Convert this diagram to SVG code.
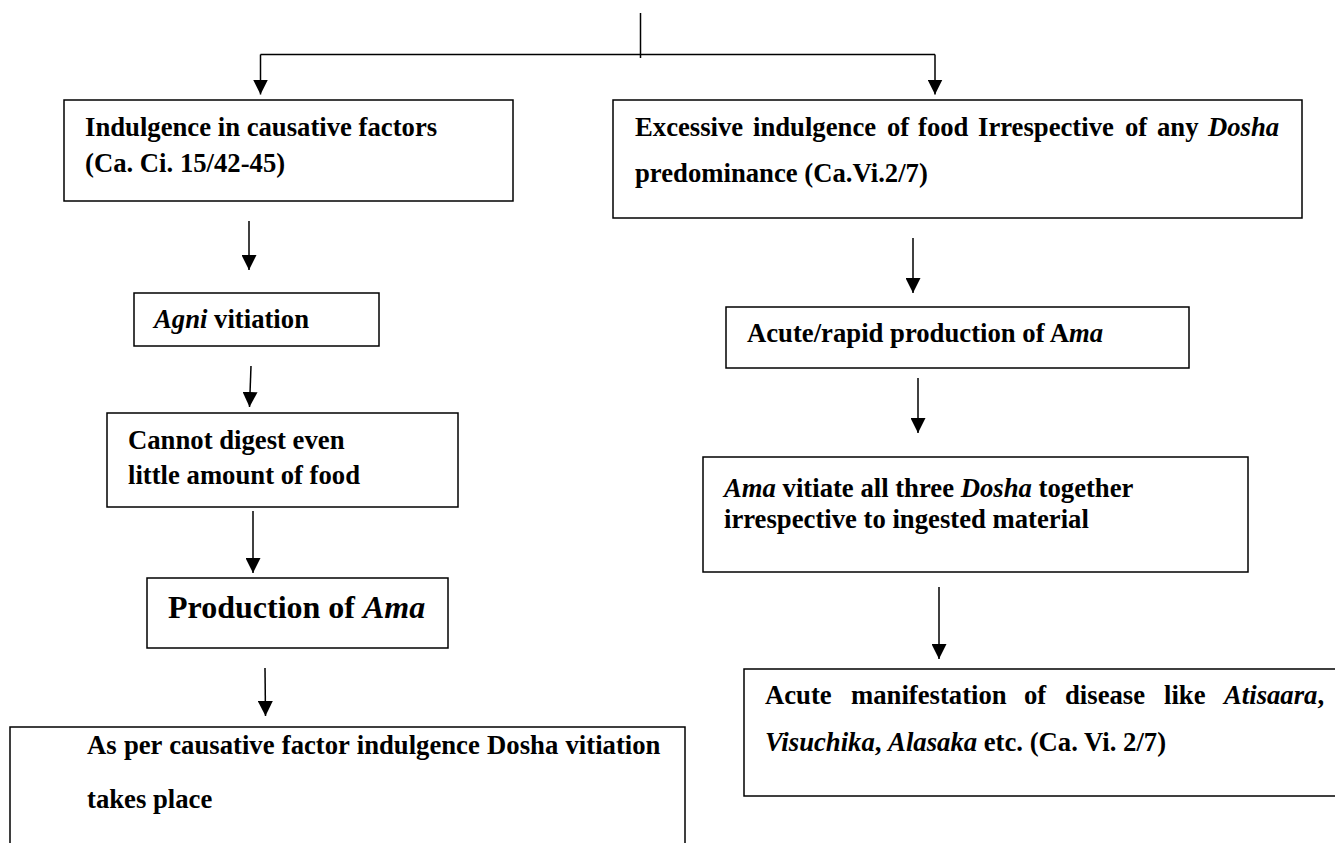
<svg xmlns="http://www.w3.org/2000/svg" width="1335" height="843" viewBox="0 0 1335 843">
<style>
.bg{fill:#fff}
.box{fill:#fff;stroke:#000;stroke-width:1.5}
.ln{fill:none;stroke:#000;stroke-width:1.5}
.t{font-family:"Liberation Serif","Times New Roman",serif;font-weight:bold;font-size:26.7px;fill:#000}
.big{font-size:32px}
.i{font-style:italic}
</style>
<defs>
<marker id="ah" markerWidth="15" markerHeight="15" refX="15" refY="7.5" orient="auto" markerUnits="userSpaceOnUse">
<path d="M0,0 L15,7.5 L0,15 z" fill="#000"/>
</marker>
</defs>
<rect class="bg" x="0" y="0" width="1335" height="843"/>

<g id="connectors">
<line class="ln" x1="640.5" y1="13" x2="640.5" y2="58"/>
<line class="ln" x1="260.5" y1="54.5" x2="935" y2="54.5"/>
<line class="ln" x1="260.5" y1="54.5" x2="260.5" y2="94.5" marker-end="url(#ah)"/>
<line class="ln" x1="935" y1="54.5" x2="935" y2="94.5" marker-end="url(#ah)"/>
<line class="ln" x1="249" y1="221" x2="249" y2="270" marker-end="url(#ah)"/>
<line class="ln" x1="251" y1="366" x2="249.5" y2="407" marker-end="url(#ah)"/>
<line class="ln" x1="253" y1="511" x2="253" y2="573" marker-end="url(#ah)"/>
<line class="ln" x1="265" y1="668" x2="265.5" y2="716" marker-end="url(#ah)"/>
<line class="ln" x1="913" y1="238" x2="913" y2="293" marker-end="url(#ah)"/>
<line class="ln" x1="918" y1="378" x2="918" y2="433" marker-end="url(#ah)"/>
<line class="ln" x1="939" y1="587" x2="939" y2="659" marker-end="url(#ah)"/>
</g>

<g id="node-indulgence">
<rect class="box" x="64" y="100" width="449" height="101"/>
<text class="t" x="85" y="136">Indulgence in causative factors</text>
<text class="t" x="85" y="172">(Ca. Ci. 15/42-45)</text>
</g>

<g id="node-excessive">
<rect class="box" x="613" y="100" width="689" height="118"/>
<text class="t" y="136"><tspan x="635">Excessive</tspan><tspan x="753">indulgence</tspan><tspan x="887">of</tspan><tspan x="918">food</tspan><tspan x="978">Irrespective</tspan><tspan x="1125">of</tspan><tspan x="1157">any</tspan><tspan x="1208" class="i">Dosha</tspan></text>
<text class="t" x="635" y="182">predominance (Ca.Vi.2/7)</text>
</g>

<g id="node-agni">
<rect class="box" x="134" y="293" width="245" height="53"/>
<text class="t" x="154" y="328"><tspan class="i">Agni</tspan> vitiation</text>
</g>

<g id="node-cannot-digest">
<rect class="box" x="107" y="413" width="351" height="94"/>
<text class="t" x="128" y="449">Cannot digest even</text>
<text class="t" x="128" y="484">little amount of food</text>
</g>

<g id="node-production">
<rect class="box" x="147" y="578" width="301" height="70"/>
<text class="t big" x="168" y="618">Production of <tspan class="i">Ama</tspan></text>
</g>

<g id="node-dosha-vitiation">
<rect class="box" x="10" y="727" width="675" height="130"/>
<text class="t" x="87" y="754" word-spacing="0.6">As per causative factor indulgence Dosha vitiation</text>
<text class="t" x="87" y="808">takes place</text>
</g>

<g id="node-acute-production">
<rect class="box" x="726" y="307" width="463" height="61"/>
<text class="t" x="747" y="342">Acute/rapid production of A<tspan class="i">ma</tspan></text>
</g>

<g id="node-ama-vitiate">
<rect class="box" x="703" y="457" width="545" height="115"/>
<text class="t" x="724" y="497"><tspan class="i">Ama</tspan> vitiate all three <tspan class="i">Dosha</tspan> together</text>
<text class="t" x="724" y="528">irrespective to ingested material</text>
</g>

<g id="node-acute-manifestation">
<rect class="box" x="744" y="669" width="606" height="127"/>
<text class="t" y="704"><tspan x="765">Acute</tspan><tspan x="851">manifestation</tspan><tspan x="1024">of</tspan><tspan x="1065">disease</tspan><tspan x="1164">like</tspan><tspan x="1224" class="i">Atisaara</tspan><tspan>,</tspan></text>
<text class="t" x="765" y="751"><tspan class="i">Visuchika</tspan>, <tspan class="i">Alasaka</tspan> etc. (Ca. Vi. 2/7)</text>
</g>
</svg>
